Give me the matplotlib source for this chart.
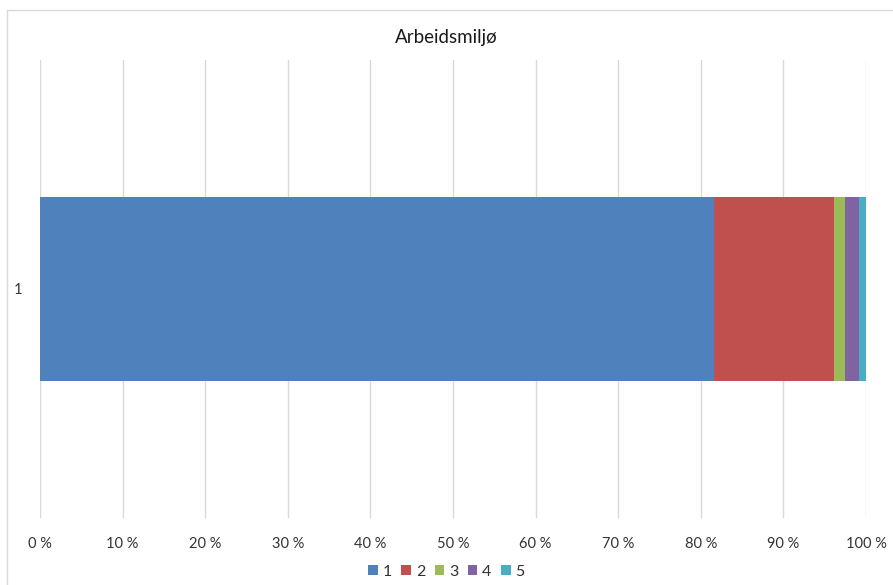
import matplotlib.pyplot as plt
from matplotlib.patches import Rectangle

# verdier lest av figuren (andel i %)
kategorier = ["1"]
serier = ["1", "2", "3", "4", "5"]
andeler = [81.6, 14.5, 1.4, 1.7, 0.8]
farger = ["#4f81bd", "#c0504d", "#9bbb59", "#8064a2", "#4bacc6"]
x_ticks = list(range(0, 101, 10))
x_labels = [f"{t} %" for t in x_ticks]

plt.rcParams['font.family'] = ['Lato', 'DejaVu Sans']

fig = plt.figure(figsize=(8.93, 5.85), dpi=100)
ax = fig.add_axes([40 / 893, 1 - 518 / 585, 826 / 893, 458 / 585])

venstre = 0
for navn, verdi, farge in zip(serier, andeler, farger):
    ax.barh(kategorier, [verdi], left=venstre, height=0.4, color=farge, label=navn, zorder=3)
    venstre += verdi

ax.set_xlim(0, 100)
ax.set_ylim(-0.5, 0.5)
ax.set_xticks(x_ticks)
ax.set_xticklabels(x_labels, fontsize=10.5, color="#333333")
ax.tick_params(axis="y", labelsize=10.5, colors="#333333", pad=13)
ax.tick_params(length=0)
ax.tick_params(axis="x", pad=14)
ax.grid(axis="x", color="#d9d9d9", linewidth=1, zorder=0)
for s in ax.spines.values():
    s.set_visible(False)

fig.text(0.5, 1 - 37 / 585, "Arbeidsmiljø", ha="center", va="center", fontsize=13.5, color="#1a1a1a")

fig.legend(loc="center", bbox_to_anchor=(0.5, 1 - 572 / 585), ncol=5, frameon=False,
           fontsize=11.5, handlelength=0.6, handleheight=0.6, handletextpad=0.3,
           columnspacing=0.6, borderaxespad=0, labelcolor="#333333")

fig.patches.append(Rectangle((7 / 893, -0.01), 1.0, 1 - 10 / 585 + 0.01, transform=fig.transFigure,
                             fill=False, edgecolor="#d9d9d9", linewidth=1))

fig.savefig("out.png", dpi=100)
